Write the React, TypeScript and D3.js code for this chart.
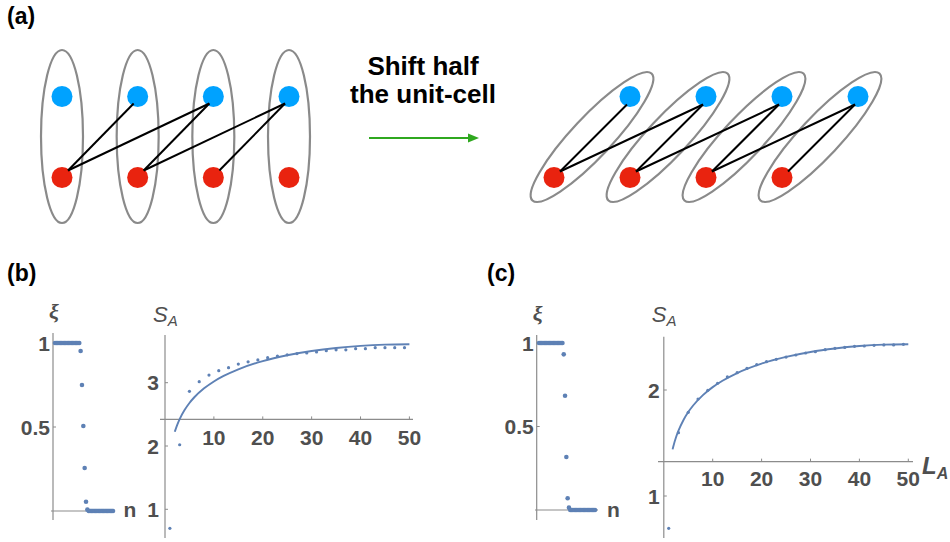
import React from "react";
import * as d3 from "d3";

// ---------- Panel (a) schematic ----------
const cells = [0, 1, 2, 3];
const bondsLeft: [number, number][] = [[0, 1], [0, 2], [1, 2], [1, 3], [2, 3]];
const bondsRight: [number, number][] = [[0, 0], [0, 1], [1, 1], [1, 2], [2, 2], [2, 3], [3, 3]];
const headerLines = ["Shift half", "the unit-cell"];
const panelLabels = ["(a)", "(b)", "(c)"];

// ---------- ξ spectra ----------
const xiTicks = [0.5, 1];
const xiB = [
  1, 1, 1, 1, 1, 1, 1, 1, 1, 1, 1, 1, 1, 1, 1, 1, 1, 1, 1,
  0.952, 0.75, 0.506, 0.256, 0.055, 0.008,
  0, 0, 0, 0, 0, 0, 0, 0, 0, 0, 0, 0, 0, 0, 0, 0, 0, 0, 0,
];
const xiC = [
  1, 1, 1, 1, 1, 1, 1, 1, 1, 1, 1, 1, 1, 1, 1, 1, 1, 1, 1,
  0.932, 0.684, 0.317, 0.07, 0.014,
  0, 0, 0, 0, 0, 0, 0, 0, 0, 0, 0, 0, 0, 0, 0, 0, 0, 0, 0, 0,
];

// ---------- Entanglement entropy ----------
const LTicks = [10, 20, 30, 40, 50];
const sTicksB = [1, 2, 3];
const sTicksC = [1, 2];
const LDots = [1, 3, 5, 7, 9, 11, 13, 15, 17, 19, 21, 23, 25, 27, 29, 31, 33, 35, 37, 39, 41, 43, 45, 47, 49];
const sDotsB = [0.7, 2.02, 2.864, 3.016, 3.12, 3.19, 3.237, 3.295, 3.33, 3.36, 3.395, 3.42, 3.44, 3.46, 3.47, 3.485, 3.505, 3.52, 3.52, 3.537, 3.537, 3.553, 3.553, 3.553, 3.553];
const sDotsC = [0.695, 1.597, 1.789, 1.915, 1.997, 2.063, 2.123, 2.163, 2.204, 2.239, 2.267, 2.289, 2.311, 2.33, 2.349, 2.361, 2.38, 2.393, 2.402, 2.412, 2.415, 2.421, 2.425, 2.425, 2.431];
const LCurveB = [2, 2.5, 3, 4, 5, 6, 8, 10, 12, 15, 20, 25, 30, 35, 40, 45, 50];
const sCurveB = [2.226, 2.334, 2.425, 2.568, 2.68, 2.77, 2.911, 3.02, 3.107, 3.212, 3.342, 3.434, 3.501, 3.549, 3.582, 3.601, 3.607];
const LCurveC = [1.8, 2, 2.5, 3, 4, 5, 6, 8, 10, 12, 15, 20, 25, 30, 35, 40, 45, 50];
const sCurveC = [1.44, 1.477, 1.554, 1.616, 1.715, 1.792, 1.854, 1.952, 2.027, 2.087, 2.16, 2.249, 2.312, 2.359, 2.392, 2.415, 2.428, 2.432];

const SANS = "'Liberation Sans', Arial, Helvetica, sans-serif";
const SERIF = "'Liberation Serif', 'DejaVu Serif', serif";
const BLUE = "#5E81B5";
const AXIS = "#8c8c8c";
const TXT = "#4f4f4f";
const RED_DOT = "#e9230f";
const BLUE_DOT = "#00a2ff";
const CELL = "#8a8a8a";
const TICK_FS = 21;

function PanelA() {
  const xL = d3.scaleLinear().domain([0, 3]).range([62, 289]);
  const xR = d3.scaleLinear().domain([0, 4]).range([554, 858]);
  const yBlue = 96.5;
  const yRed = 177.5;
  const r = 10.5;
  const angle = (Math.atan2(yBlue - yRed, xR(1) - xR(0)) * 180) / Math.PI;
  return (
    <g>
      {cells.map((i) => (
        <ellipse key={"el" + i} cx={xL(i)} cy={136.5} rx={21} ry={86.5} fill="none" stroke={CELL} strokeWidth={2.2} />
      ))}
      {cells.map((i) => (
        <g key={"dl" + i}>
          <circle cx={xL(i)} cy={yBlue} r={r} fill={BLUE_DOT} />
          <circle cx={xL(i)} cy={yRed} r={r} fill={RED_DOT} />
        </g>
      ))}
      {bondsLeft.map(([a, b], k) => (
        <line key={"bl" + k} x1={xL(a) + 6} y1={yRed - 7} x2={xL(b) - 4} y2={yBlue + 7} stroke="#000" strokeWidth={2} />
      ))}

      {headerLines.map((t, i) => (
        <text key={t} x={423} y={75 + i * 28} textAnchor="middle" fontFamily={SANS} fontWeight="bold" fontSize={26} fill="#000">
          {t}
        </text>
      ))}
      <line x1={369} x2={470} y1={138} y2={138} stroke="#2fa81f" strokeWidth={2} />
      <path d="M468,133.5 L479,138 L468,142.5 Z" fill="#2fa81f" />

      {cells.map((i) => {
        const cx = (xR(i) + xR(i + 1)) / 2;
        const cy = (yBlue + yRed) / 2;
        return (
          <ellipse key={"er" + i} cx={cx} cy={cy} rx={87} ry={20} transform={`rotate(${angle} ${cx} ${cy})`} fill="none" stroke={CELL} strokeWidth={2.2} />
        );
      })}
      {cells.map((i) => (
        <g key={"dr" + i}>
          <circle cx={xR(i + 1)} cy={yBlue} r={r} fill={BLUE_DOT} />
          <circle cx={xR(i)} cy={yRed} r={r} fill={RED_DOT} />
        </g>
      ))}
      {bondsRight.map(([a, b], k) => (
        <line key={"br" + k} x1={xR(a) + 6} y1={yRed - 6} x2={xR(b + 1) - 3} y2={yBlue + 8} stroke="#000" strokeWidth={2} />
      ))}
    </g>
  );
}

type XiProps = {
  data: number[];
  xRange: [number, number];
  yRange: [number, number];
  axisX: number;
  axisTop: number;
  axisBottom: number;
  xAxisLeft: number;
  xAxisRight: number;
  nX: number;
};

function XiPlot(p: XiProps) {
  const x = d3.scaleLinear().domain([1, p.data.length]).range(p.xRange);
  const y = d3.scaleLinear().domain([0, 1]).range(p.yRange);
  return (
    <g>
      <line x1={p.axisX} x2={p.axisX} y1={p.axisTop} y2={p.axisBottom} stroke={AXIS} strokeWidth={1.2} />
      <line x1={p.xAxisLeft} x2={p.xAxisRight} y1={y(0)} y2={y(0)} stroke={AXIS} strokeWidth={1.2} />
      {xiTicks.map((t) => (
        <g key={t}>
          <line x1={p.axisX} x2={p.axisX + 3} y1={y(t)} y2={y(t)} stroke={AXIS} strokeWidth={1} />
          <text x={p.axisX - 3} y={y(t) + 7.5} textAnchor="end" fontFamily={SANS} fontWeight="bold" fontSize={TICK_FS} fill={TXT}>
            {t === 1 ? "1" : "0.5"}
          </text>
        </g>
      ))}
      <text x={p.axisX + 1} y={p.axisTop - 14} textAnchor="middle" fontFamily={SERIF} fontStyle="italic" fontWeight="bold" fontSize={22} fill={TXT}>
        ξ
      </text>
      <text x={p.nX} y={517} fontFamily={SANS} fontWeight="bold" fontSize={21} fill={TXT}>
        n
      </text>
      {p.data.map((v, i) => (
        <circle key={i} cx={x(i + 1)} cy={y(v)} r={2.3} fill={BLUE} />
      ))}
    </g>
  );
}

type SProps = {
  dots: number[];
  curveL: number[];
  curveS: number[];
  yTicks: number[];
  xRange: [number, number];
  yDomain: [number, number];
  yRange: [number, number];
  xAxisValue: number;
  axisTop: number;
  axisBottom: number;
  xAxisLeft: number;
  xAxisRight: number;
  yLabelGap: number;
  xLabelOffset: number;
  showLA: boolean;
};

function SPlot(p: SProps) {
  const x = d3.scaleLinear().domain([0, 50]).range(p.xRange);
  const y = d3.scaleLinear().domain(p.yDomain).range(p.yRange);
  const ax = x(0);
  const ay = y(p.xAxisValue);
  const line = d3
    .line<number>()
    .x((_, i) => x(p.curveL[i]))
    .y((d) => y(d))
    .curve(d3.curveMonotoneX);
  return (
    <g>
      <line x1={ax} x2={ax} y1={p.axisTop} y2={p.axisBottom} stroke={AXIS} strokeWidth={1.2} />
      <line x1={p.xAxisLeft} x2={p.xAxisRight} y1={ay} y2={ay} stroke={AXIS} strokeWidth={1.2} />
      {LTicks.map((t) => (
        <g key={t}>
          <line x1={x(t)} x2={x(t)} y1={ay} y2={ay - 3} stroke={AXIS} strokeWidth={1} />
          <text x={x(t)} y={ay + p.xLabelOffset} textAnchor="middle" fontFamily={SANS} fontWeight="bold" fontSize={TICK_FS} fill={TXT}>
            {t}
          </text>
        </g>
      ))}
      {p.yTicks.map((t) => (
        <g key={t}>
          <line x1={ax} x2={ax + 3} y1={y(t)} y2={y(t)} stroke={AXIS} strokeWidth={1} />
          <text x={ax - p.yLabelGap} y={y(t) + 7.5} textAnchor="end" fontFamily={SANS} fontWeight="bold" fontSize={TICK_FS} fill={TXT}>
            {t}
          </text>
        </g>
      ))}
      <text x={ax - 12} y={322} fontFamily={SANS} fontStyle="italic" fontSize={22} fill={TXT}>
        S<tspan fontSize={15} dy={4}>A</tspan>
      </text>
      {p.showLA && (
        <text x={p.xAxisRight + 9} y={ay + 12} fontFamily={SANS} fontStyle="italic" fontWeight="bold" fontSize={24} fill={TXT}>
          L<tspan fontSize={16} dy={5}>A</tspan>
        </text>
      )}
      <path d={line(p.curveS) || ""} fill="none" stroke={BLUE} strokeWidth={1.9} />
      {p.dots.map((v, i) => (
        <circle key={i} cx={x(LDots[i])} cy={y(v)} r={1.6} fill={BLUE} />
      ))}
    </g>
  );
}

export default function App() {
  return (
    <svg width={950} height={542} style={{ position: "absolute", left: 0, top: 0, background: "#fff" }}>
      <rect x={0} y={0} width={950} height={542} fill="#fff" />
      <text x={7} y={24} fontFamily={SANS} fontWeight="bold" fontSize={23} fill="#000">{panelLabels[0]}</text>
      <text x={7} y={281} fontFamily={SANS} fontWeight="bold" fontSize={23} fill="#000">{panelLabels[1]}</text>
      <text x={487} y={281} fontFamily={SANS} fontWeight="bold" fontSize={23} fill="#000">{panelLabels[2]}</text>
      <PanelA />
      <XiPlot data={xiB} xRange={[55, 113]} yRange={[511, 343]} axisX={53} axisTop={333} axisBottom={520} xAxisLeft={51} xAxisRight={115} nX={123.5} />
      <XiPlot data={xiC} xRange={[539, 595]} yRange={[510, 343]} axisX={536.7} axisTop={335} axisBottom={520} xAxisLeft={535} xAxisRight={598} nX={607} />
      <SPlot
        dots={sDotsB}
        curveL={LCurveB}
        curveS={sCurveB}
        yTicks={sTicksB}
        xRange={[165, 409.4]}
        yDomain={[1, 3]}
        yRange={[509.3, 382.7]}
        xAxisValue={2.42}
        axisTop={335}
        axisBottom={538}
        xAxisLeft={160}
        xAxisRight={413}
        yLabelGap={6}
        xLabelOffset={26}
        showLA={false}
      />
      <SPlot
        dots={sDotsC}
        curveL={LCurveC}
        curveS={sCurveC}
        yTicks={sTicksC}
        xRange={[663.8, 908.3]}
        yDomain={[1, 2]}
        yRange={[496, 390]}
        xAxisValue={1.324}
        axisTop={336.7}
        axisBottom={538}
        xAxisLeft={658}
        xAxisRight={913}
        yLabelGap={4}
        xLabelOffset={24}
        showLA={true}
      />
    </svg>
  );
}
